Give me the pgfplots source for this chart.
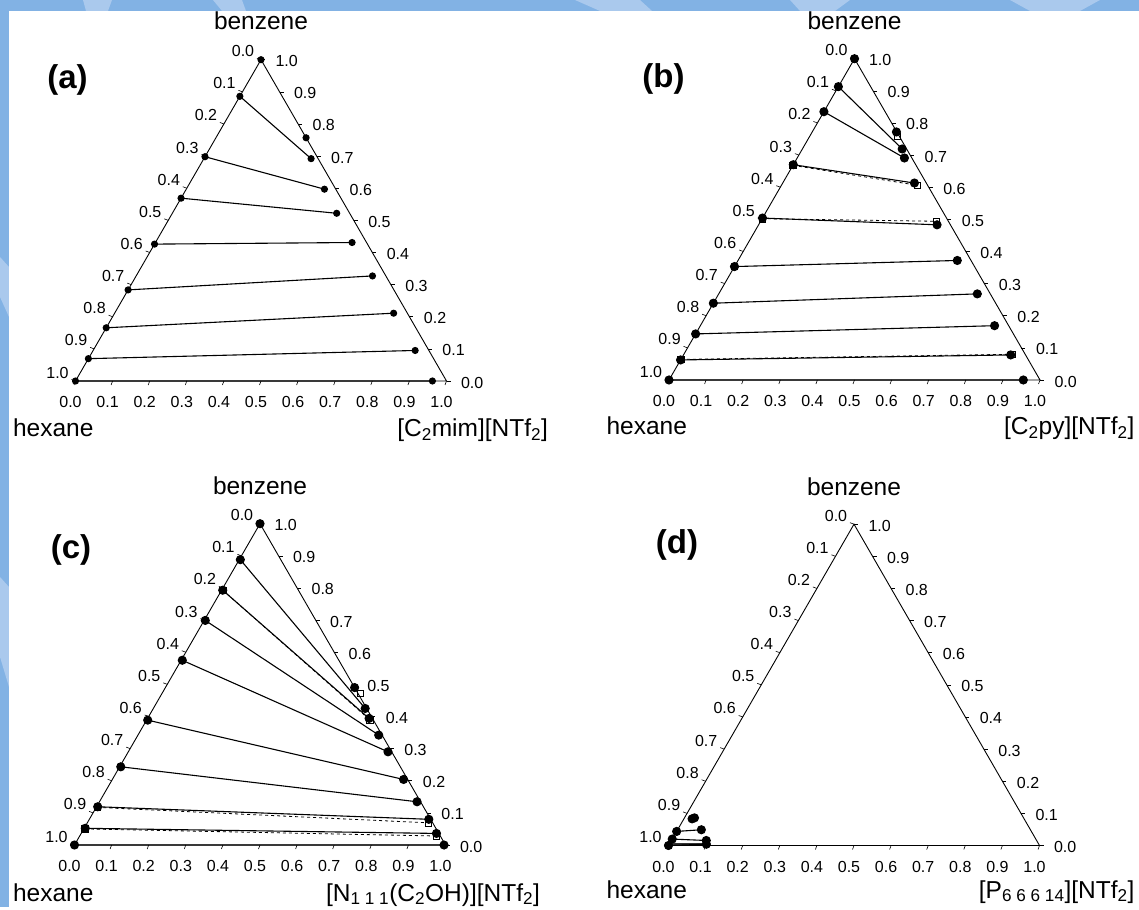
\documentclass[border=0pt]{standalone}
\usepackage{pgfplots}
\pgfplotsset{compat=1.18}
\usepackage{pgfplotstable}
\usepackage{fontspec}
\setmainfont{Liberation Sans}

\definecolor{bgblue}{RGB}{130,178,228}
\definecolor{bgstreak}{RGB}{170,201,237}

\newcommand\tickfont{\fontsize{16}{18}\selectfont}
\newcommand\namefont{\fontsize{24.5}{28}\selectfont}
\newcommand\letterfont{\fontsize{33}{38}\selectfont\bfseries}

% ternary (IL fraction b, benzene fraction t) -> cartesian
\pgfplotsset{
  /pgfplots/table/ternxy/.style={x expr=\thisrow{b}+0.5*\thisrow{t}, y expr=0.8660254*\thisrow{t}},
  tern/.style={anchor=south west, scale only axis,
    width=500.85pt, height=426.65pt,
    xmin=-0.2, xmax=1.15, ymin=-0.15, ymax=1.0, hide axis, clip=false},
  triframe/.style={black, line width=0.9pt, mark=none, line join=miter},
  tie/.style={black, line width=1.1pt, mark=*, mark size=#1, unbounded coords=jump},
  calcline/.style={black, dashed, line width=0.8pt, mark=square, mark size=3.2pt,
    mark options={solid, line width=0.7pt}, unbounded coords=jump},
}

% ticks and tick labels of one triangle, hexane corner at (#1,#2)
\newcommand\ternticks[2]{%
\begin{scope}[shift={(#1pt,#2pt)}, x=371pt, y=371pt]
\foreach \i in {0,...,10}{
  \pgfmathsetmacro\v{\i/10}
  \def\lab{\ifnum\i=10 1.0\else 0.\i\fi}
  \draw[line width=0.6pt] (\v,0) -- ++(-1.5pt,-4pt);
  \node[font=\tickfont, xshift=-5pt, yshift=-21pt] at (\v,0) {\lab};
  \draw[line width=0.6pt] ({(1-\v)/2},{0.8660254*(1-\v)}) -- ++(-4pt,1.5pt);
  \node[font=\tickfont, xshift=-18pt, yshift=8.5pt] at ({(1-\v)/2},{0.8660254*(1-\v)}) {\lab};
  \draw[line width=0.6pt] ({1-\v/2},{0.8660254*\v}) -- ++(4pt,0pt);
  \node[font=\tickfont, anchor=west, xshift=11pt, yshift=-1.5pt] at ({1-\v/2},{0.8660254*\v}) {\lab};
}
\end{scope}}

% (a) [C2mim][NTf2]
\pgfplotstableread{
b t
0 1
nan nan
0.243 0.757
nan nan
0 0.886
0.289 0.692
nan nan
0 0.698
0.3725 0.597
nan nan
0 0.569
0.443 0.522
nan nan
0 0.426
0.530 0.431
nan nan
0 0.2835
0.637 0.327
nan nan
0 0.1656
0.752 0.211
nan nan
0 0.0695
0.868 0.095
nan nan
0 0
0.962 0
}\expA

% (b) [C2py][NTf2]
\pgfplotstableread{
b t
0 1
nan nan
0.227 0.772
nan nan
0 0.913
0.269 0.719
nan nan
0 0.835
0.289 0.691
nan nan
0 0.670
0.355 0.613
nan nan
0 0.504
0.481 0.483
nan nan
0 0.353
0.591 0.372
nan nan
0 0.239
0.697 0.268
nan nan
0 0.1434
0.793 0.169
nan nan
0 0.0624
0.882 0.078
nan nan
0 0
0.955 0
}\expB
\pgfplotstableread{
b t
0.236 0.759
nan nan
0 0.668
0.366 0.606
nan nan
0 0.502
0.474 0.494
nan nan
0 0.064
0.884 0.080
}\calB

% (c) [N111(C2OH)][NTf2]
\pgfplotstableread{
b t
0 1
nan nan
0.510 0.490
nan nan
0.003 0.888
0.571 0.425
nan nan
0.003 0.793
0.597 0.394
nan nan
0.003 0.699
0.649 0.342
nan nan
0.003 0.575
0.700 0.290
nan nan
0.003 0.3886
0.785 0.204
nan nan
0.003 0.2434
0.856 0.1346
nan nan
0.003 0.119
0.915 0.080
nan nan
0.003 0.052
0.9576 0.036
nan nan
0 0
0.996 0
}\expC
\pgfplotstableread{
b t
0.534 0.472
nan nan
0.003 0.793
0.602 0.389
nan nan
0.003 0.117
0.920 0.069
nan nan
0.003 0.050
0.962 0.028
}\calC

% (d) [P66614][NTf2]
\pgfplotstableread{
b t
0.022 0.083
0.027 0.086
nan nan
0 0.0438
0.064 0.049
nan nan
0 0.020
0.094 0.0156
nan nan
0 0
0.100 0.004
}\expD

\begin{document}
\begin{tikzpicture}[x=1pt, y=1pt]
% background frame
\fill[bgblue] (0,0) rectangle (1139,907);
\fill[bgstreak] (83,907) -- (112,907) -- (108,896) -- (86,896) -- cycle;
\fill[bgstreak] (213,907) -- (242,907) -- (246,896) -- (222,896) -- cycle;
\fill[bgstreak] (575,907) -- (640,907) -- (652,896) -- (600,896) -- cycle;
\fill[bgstreak] (790,907) -- (850,907) -- (835,896) -- (800,896) -- cycle;
\fill[bgstreak] (1010,907) -- (1100,907) -- (1080,896) -- (1030,896) -- cycle;
\fill[bgstreak] (0,650) -- (9,640) -- (9,590) -- (0,610) -- cycle;
\fill[bgstreak] (0,330) -- (9,320) -- (9,220) -- (0,250) -- cycle;
\fill[white] (9,0) rectangle (1139,896);

% (a)
\begin{axis}[tern, at={(1.3pt,470.35pt)}]
\addplot[triframe] coordinates {(0,0) (1,0) (0.5,0.8660254) (0,0)};
\addplot[tie=3pt] table[ternxy] {\expA};
\end{axis}
\ternticks{75.5}{526}
\node[font=\namefont, anchor=base] at (261,877) {benzene};
\node[font=\namefont, anchor=base west] at (9.5,470) {hexane};
\node[font=\namefont, anchor=base east] at (551.5,470) {[C\textsubscript{2}mim][NTf\textsubscript{2}]};
\node[font=\letterfont] at (67.5,827) {(a)};

% (b)
\begin{axis}[tern, at={(594.8pt,471.35pt)}]
\addplot[triframe] coordinates {(0,0) (1,0) (0.5,0.8660254) (0,0)};
\addplot[calcline] table[ternxy] {\calB};
\addplot[tie=4pt] table[ternxy] {\expB};
\end{axis}
\ternticks{669}{527}
\node[font=\namefont, anchor=base] at (854.5,877) {benzene};
\node[font=\namefont, anchor=base west] at (603,472) {hexane};
\node[font=\namefont, anchor=base east] at (1138,472) {[C\textsubscript{2}py][NTf\textsubscript{2}]};
\node[font=\letterfont] at (663.5,828) {(b)};

% (c)
\begin{axis}[tern, at={(0.3pt,6.35pt)}]
\addplot[triframe] coordinates {(0,0) (1,0) (0.5,0.8660254) (0,0)};
\addplot[calcline] table[ternxy] {\calC};
\addplot[tie=4pt] table[ternxy] {\expC};
\end{axis}
\ternticks{74.5}{62}
\node[font=\namefont, anchor=base] at (260,412.3) {benzene};
\node[font=\namefont, anchor=base west] at (9.5,6) {hexane};
\node[font=\namefont, anchor=base east] at (543.5,6) {[N\textsubscript{1 1 1}(C\textsubscript{2}OH)][NTf\textsubscript{2}]};
\node[font=\letterfont] at (71,357) {(c)};

% (d)
\begin{axis}[tern, at={(594.3pt,5.85pt)}]
\addplot[triframe] coordinates {(0,0) (1,0) (0.5,0.8660254) (0,0)};
\addplot[black!80, line width=1.6pt, mark=none] coordinates {(0,0.004) (0.1,0.004)};
\addplot[tie=4pt] table[ternxy] {\expD};
\end{axis}
\ternticks{668.5}{61.5}
\node[font=\namefont, anchor=base] at (854,411.3) {benzene};
\node[font=\namefont, anchor=base west] at (603,9) {hexane};
\node[font=\namefont, anchor=base east] at (1138,9) {[P\textsubscript{6 6 6 14}][NTf\textsubscript{2}]};
\node[font=\letterfont] at (677,362) {(d)};
\end{tikzpicture}
\end{document}
